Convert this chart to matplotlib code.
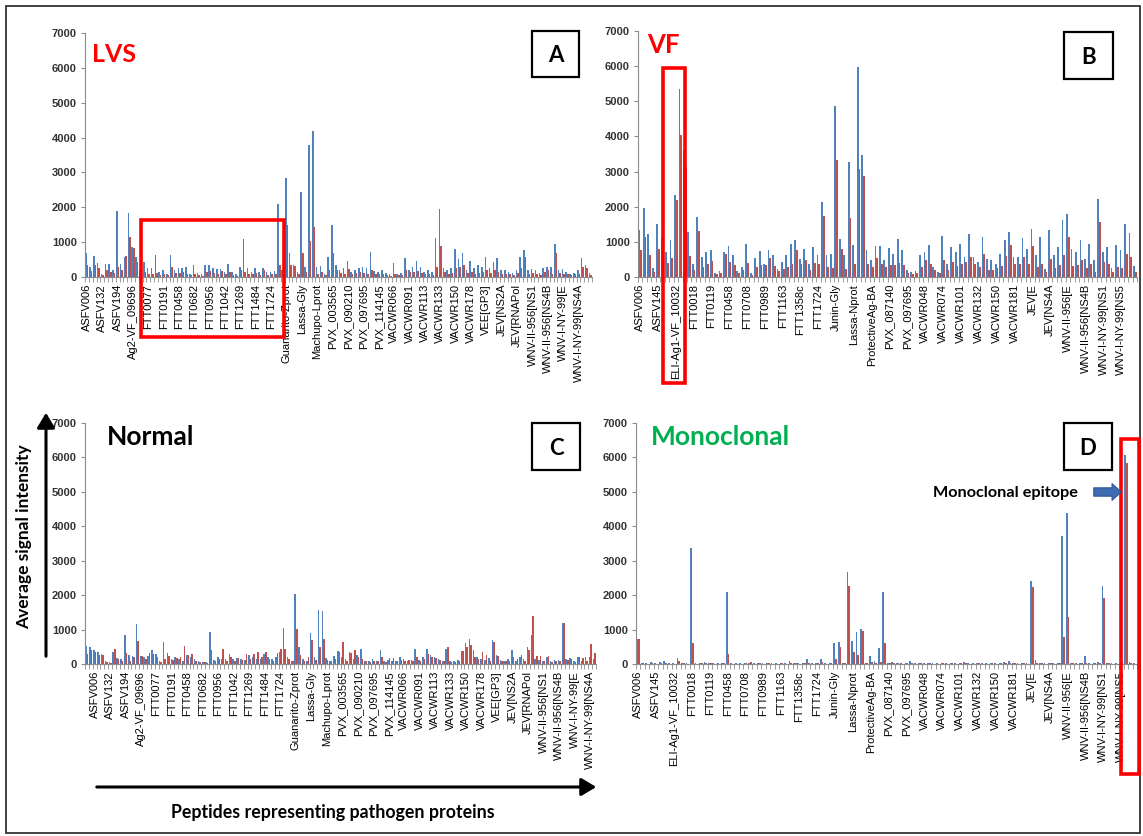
import numpy as np
import matplotlib
matplotlib.use('Agg')
import matplotlib.pyplot as plt
from matplotlib.patches import Rectangle, FancyArrowPatch

W, H = 1143, 836
BLUE = '#4f81bd'
RED = '#c0504d'
GRAY = '#8c8c8c'

# tick labels (one label every 4 peptides)
labels_ac = ['ASFV006', 'ASFV132', 'ASFV194', 'Ag2-VF_09696', 'FTT0077', 'FTT0191',
             'FTT0458', 'FTT0682', 'FTT0956', 'FTT1042', 'FTT1269', 'FTT1484',
             'FTT1724', 'Guanarito-Zprot', 'Lassa-Gly', 'Machupo-Lprot',
             'PVX_003565', 'PVX_090210', 'PVX_097695', 'PVX_114145', 'VACWR066',
             'VACWR091', 'VACWR113', 'VACWR133', 'VACWR150', 'VACWR178',
             'VEE[GP3]', 'JEV[NS2A', 'JEV[RNAPol', 'WNV-II-956[NS1',
             'WNV-II-956[NS4B', 'WNV-I-NY-99[E', 'WNV-I-NY-99[NS4A']
labels_bd = ['ASFV006', 'ASFV145', 'ELI-Ag1-VF_10032', 'FTT0018', 'FTT0119',
             'FTT0458', 'FTT0708', 'FTT0989', 'FTT1163', 'FTT1358c', 'FTT1724',
             'Junin-Gly', 'Lassa-Nprot', 'ProtectiveAg-BA', 'PVX_087140',
             'PVX_097695', 'VACWR048', 'VACWR074', 'VACWR101', 'VACWR132',
             'VACWR150', 'VACWR181', 'JEV[E', 'JEV[NS4A', 'WNV-II-956[E',
             'WNV-II-956[NS4B', 'WNV-I-NY-99[NS1', 'WNV-I-NY-99[NS5']

# panel A - LVS
lvs_blue = [700, 290, 600, 400, 100, 380, 380, 200, 1900, 360, 580, 1830,
            870, 570, 200, 420, 250, 250, 630, 150, 200, 100, 630, 200,
            250, 270, 280, 100, 340, 120, 80, 340, 340, 260, 230, 220,
            150, 360, 130, 100, 300, 1100, 250, 150, 260, 140, 260, 130,
            150, 160, 2090, 200, 2850, 690, 340, 150, 2450, 280, 3800, 4200,
            300, 320, 100, 570, 1480, 330, 200, 250, 450, 150, 200, 250,
            280, 270, 730, 180, 150, 200, 120, 80, 390, 80, 120, 540,
            200, 300, 460, 300, 150, 200, 150, 1120, 1940, 250, 200, 250,
            790, 530, 680, 200, 450, 250, 340, 290, 570, 250, 420, 540,
            200, 200, 150, 120, 200, 580, 770, 200, 220, 200, 120, 250,
            280, 280, 960, 200, 220, 150, 100, 120, 200, 540, 330, 120]
lvs_red = [340, 180, 340, 250, 60, 200, 150, 120, 280, 200, 600, 1140,
           830, 440, 100, 150, 100, 80, 120, 60, 90, 50, 300, 120,
           120, 150, 100, 50, 80, 60, 40, 150, 180, 120, 100, 160,
           80, 130, 60, 40, 200, 150, 100, 80, 120, 70, 200, 60,
           80, 100, 340, 120, 1500, 340, 320, 100, 700, 150, 1030, 1430,
           100, 150, 60, 200, 690, 200, 120, 100, 220, 100, 120, 150,
           120, 100, 200, 100, 80, 90, 60, 40, 100, 50, 60, 200,
           130, 150, 180, 120, 80, 100, 60, 300, 890, 150, 100, 120,
           250, 300, 340, 120, 150, 100, 120, 150, 200, 120, 200, 150,
           100, 80, 100, 60, 120, 250, 570, 100, 120, 100, 60, 150,
           200, 100, 680, 120, 100, 80, 60, 80, 100, 300, 250, 60]

# panel B - VF
vf_blue = [1350, 1970, 1230, 250, 1500, 1110, 700, 1040, 2320, 5350, 3600, 1280,
           380, 1700, 570, 710, 760, 120, 170, 710, 870, 635, 170, 285,
           930, 100, 550, 730, 380, 760, 616, 235, 430, 616, 930, 1040,
           520, 800, 380, 850, 616, 2130, 616, 660, 4880, 1090, 616, 3270,
           920, 5970, 3460, 780, 490, 870, 870, 470, 825, 660, 1090, 760,
           190, 140, 170, 640, 715, 905, 285, 150, 1160, 380, 860, 715,
           925, 570, 1210, 570, 430, 1140, 520, 475, 380, 665, 1050, 1270,
           570, 570, 1120, 810, 1380, 620, 1140, 240, 1330, 620, 860, 1620,
           1790, 810, 715, 1050, 500, 950, 475, 2220, 715, 860, 250, 905,
           760, 1520, 1240, 300]
vf_red = [780, 1140, 620, 150, 805, 470, 400, 550, 2180, 4030, 3130, 600,
          200, 1310, 285, 380, 455, 80, 120, 660, 430, 330, 100, 190,
          400, 60, 285, 330, 330, 550, 300, 170, 235, 285, 380, 780,
          380, 490, 210, 400, 380, 1750, 285, 265, 3320, 800, 235, 1690,
          380, 3080, 2860, 380, 285, 550, 380, 285, 330, 330, 400, 330,
          120, 80, 100, 285, 475, 380, 200, 100, 475, 200, 430, 300,
          380, 430, 570, 380, 285, 665, 190, 200, 250, 300, 590, 905,
          380, 380, 570, 380, 875, 285, 380, 140, 520, 250, 330, 620,
          1140, 300, 330, 475, 250, 380, 150, 1570, 430, 380, 140, 285,
          250, 665, 570, 150]

# panel C - Normal
normal_blue = [520, 480, 420, 360, 300, 80, 60, 360, 160, 150, 830, 250,
               230, 1160, 240, 200, 230, 400, 300, 100, 640, 330, 150, 200,
               150, 100, 250, 200, 150, 80, 60, 50, 920, 120, 200, 150,
               150, 300, 150, 160, 150, 120, 250, 200, 150, 150, 300, 200,
               150, 200, 350, 1060, 200, 100, 2030, 480, 150, 100, 900, 210,
               1580, 1530, 160, 100, 230, 390, 200, 150, 360, 150, 260, 450,
               100, 80, 150, 100, 420, 80, 120, 80, 100, 200, 150, 100,
               120, 450, 120, 200, 450, 250, 200, 150, 100, 450, 100, 80,
               120, 390, 600, 730, 420, 200, 150, 120, 180, 700, 250, 120,
               100, 150, 420, 100, 200, 150, 500, 850, 150, 120, 100, 200,
               80, 130, 120, 1200, 150, 180, 100, 200, 100, 200, 210, 150]
normal_red = [300, 400, 350, 250, 250, 60, 40, 450, 150, 100, 330, 100,
              200, 680, 230, 150, 330, 300, 200, 60, 150, 230, 120, 170,
              200, 530, 260, 280, 100, 70, 60, 40, 400, 100, 150, 450,
              80, 200, 100, 160, 130, 300, 150, 300, 350, 200, 350, 150,
              100, 330, 450, 450, 150, 80, 1010, 260, 100, 210, 700, 120,
              480, 740, 120, 80, 150, 350, 630, 100, 330, 420, 200, 150,
              80, 60, 100, 80, 210, 60, 160, 160, 80, 120, 100, 120,
              100, 210, 100, 150, 280, 200, 180, 120, 80, 480, 60, 60,
              100, 390, 480, 550, 200, 150, 360, 260, 100, 650, 230, 80,
              100, 80, 200, 150, 250, 100, 400, 1390, 230, 240, 80, 230,
              60, 100, 80, 1180, 120, 150, 60, 200, 160, 100, 570, 330]

# panel D - Monoclonal
mono_blue = [720, 40, 30, 50, 30, 60, 100, 40, 30, 180, 40, 30,
             3370, 30, 40, 50, 40, 30, 30, 40, 2100, 30, 20, 30,
             40, 30, 30, 40, 30, 40, 30, 20, 40, 30, 100, 40,
             30, 40, 145, 30, 40, 140, 30, 40, 620, 630, 40, 2660,
             680, 920, 1010, 40, 230, 100, 460, 2080, 40, 50, 40, 30,
             40, 90, 30, 40, 30, 40, 30, 30, 40, 30, 40, 30,
             40, 60, 30, 30, 40, 30, 30, 40, 30, 40, 70, 90,
             40, 30, 40, 30, 2400, 120, 40, 30, 40, 30, 40, 3730,
             4390, 40, 30, 40, 230, 30, 40, 70, 2270, 40, 30, 30,
             390, 6060, 60, 30]
mono_red = [730, 20, 10, 20, 10, 20, 40, 10, 10, 100, 20, 10,
            620, 10, 20, 20, 20, 10, 10, 20, 280, 10, 10, 10,
            20, 70, 10, 20, 10, 20, 10, 10, 20, 10, 40, 20,
            10, 20, 30, 10, 20, 60, 10, 20, 150, 490, 20, 2280,
            350, 260, 970, 20, 60, 40, 60, 600, 20, 20, 20, 10,
            20, 30, 10, 20, 10, 20, 10, 10, 20, 10, 20, 10,
            20, 30, 10, 10, 20, 10, 10, 20, 10, 20, 40, 40,
            20, 10, 20, 10, 2250, 40, 20, 10, 20, 10, 20, 770,
            1360, 20, 10, 20, 40, 10, 20, 30, 1910, 20, 10, 10,
            50, 5840, 20, 10]


def fx(px):
    return px / W


def fy(py):
    return 1 - py / H


def panel(fig, left, top, right, bottom, blue, red, labels, offset):
    ''' one bar panel, positions given in pixels '''
    ax = fig.add_axes([fx(left), fy(bottom), (right - left) / W, (bottom - top) / H])
    n = len(blue)
    x = np.arange(n)
    ax.bar(x - 0.2, blue, width=0.4, color=BLUE, linewidth=0)
    ax.bar(x + 0.2, red, width=0.4, color=RED, linewidth=0)
    ax.set_xlim(-0.5, n - 0.5)
    ax.set_ylim(0, 7000)
    ax.set_yticks(range(0, 7001, 1000))
    ax.set_xticks(np.arange(len(labels)) * 4 + offset, labels=labels,
                  rotation=90, fontsize=8, family='Liberation Sans')
    ax.set_xticks(np.arange(n + 1) - 0.5, minor=True)
    ax.tick_params(axis='x', which='major', length=0, pad=5)
    ax.tick_params(axis='x', which='minor', length=3.5, width=0.6, color=GRAY)
    ax.tick_params(axis='y', length=3, width=0.8, color=GRAY, labelsize=8, pad=3)
    for t in ax.get_yticklabels():
        t.set_family('Liberation Sans')
        t.set_fontweight('bold')
        t.set_color('#333333')
    for s in ['top', 'right']:
        ax.spines[s].set_visible(False)
    for s in ['left', 'bottom']:
        ax.spines[s].set_color(GRAY)
    ax.patch.set_alpha(0)
    return ax


def box(fig, x0, y0, x1, y1, color, lw):
    fig.add_artist(Rectangle((fx(x0), fy(y1)), (x1 - x0) / W, (y1 - y0) / H,
                             transform=fig.transFigure, fill=False,
                             edgecolor=color, linewidth=lw))


plt.rcParams['font.family'] = ['Lato', 'DejaVu Sans']
fig = plt.figure(figsize=(W / 100, H / 100), dpi=100)

panel(fig, 85, 33, 592, 277, lvs_blue, lvs_red, labels_ac, 0)
panel(fig, 638, 31, 1137, 277, vf_blue, vf_red, labels_bd, 0)
panel(fig, 85, 423, 596, 664, normal_blue, normal_red, labels_ac, 2)
panel(fig, 636, 423, 1137, 664, mono_blue, mono_red, labels_bd, 0)

# outer frame
box(fig, 6, 6, 1140, 833, '#333333', 1.3)

# panel names
fig.text(fx(92), fy(62), 'LVS', color='#ff0000', fontsize=18, weight='bold')
fig.text(fx(647), fy(53), 'VF', color='#ff0000', fontsize=18.5, weight='bold')
fig.text(fx(107), fy(445), 'Normal', color='black', fontsize=19, weight='bold')
fig.text(fx(651), fy(445), 'Monoclonal', color='#00b050', fontsize=19, weight='bold')

# letter boxes
for x0, y0, x1, y1, letter in [(532, 31, 579, 77, 'A'), (1064, 32, 1113, 79, 'B'),
                               (532, 423, 580, 470, 'C'), (1064, 423, 1112, 470, 'D')]:
    box(fig, x0, y0, x1, y1, 'black', 1.6)
    fig.text(fx((x0 + x1) / 2), fy(y1 - 15), letter, ha='center', va='baseline',
             fontsize=16, weight='bold')

# red highlight boxes
box(fig, 141, 220, 284, 337, '#ff0000', 2.6)
box(fig, 663, 68, 685, 383, '#ff0000', 2.6)
box(fig, 1121, 439, 1139, 774, '#ff0000', 2.6)

# monoclonal epitope arrow
fig.text(fx(933), fy(497), 'Monoclonal epitope', fontsize=11.7, weight='bold')
fig.add_artist(FancyArrowPatch((fx(1091), fy(492)), (fx(1124), fy(492)),
                               transform=fig.transFigure,
                               arrowstyle='simple,head_length=0.55,head_width=1.0,tail_width=0.5',
                               mutation_scale=12, facecolor='#3d6db0', edgecolor='#2f5597',
                               linewidth=0.8))

# axis arrows
fig.add_artist(FancyArrowPatch((fx(46), fy(659)), (fx(46), fy(410)),
                               transform=fig.transFigure,
                               arrowstyle='-|>,head_length=0.5,head_width=0.3',
                               mutation_scale=18, color='black', linewidth=2.2))
fig.add_artist(FancyArrowPatch((fx(94), fy(787)), (fx(599), fy(787)),
                               transform=fig.transFigure,
                               arrowstyle='-|>,head_length=0.5,head_width=0.3',
                               mutation_scale=18, color='black', linewidth=2.2))
fig.text(fx(24), fy(537), 'Average signal intensity', rotation=90, ha='center',
         va='center', fontsize=12.5, weight='bold')
fig.text(fx(333), fy(818), 'Peptides representing pathogen proteins', ha='center',
         va='baseline', fontsize=12.8, weight='bold')

fig.savefig('out.png', dpi=100)
